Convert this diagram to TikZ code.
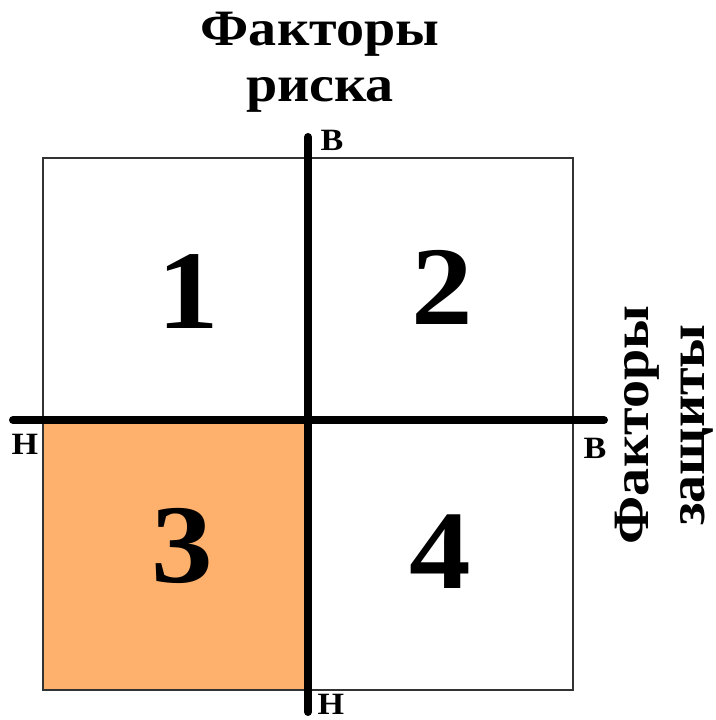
\documentclass[tikz,border=0pt]{standalone}
\usepackage{fontspec}
\setmainfont{Liberation Serif}
\newfontfamily\widefont[FakeStretch=1.1]{Liberation Serif}
\usetikzlibrary{positioning}
\definecolor{quadorange}{RGB}{253,177,108}

\begin{document}
\begin{tikzpicture}[x=1pt, y=-1pt,
    frame/.style={draw=black!80, line width=2pt},
    axis/.style={line width=8pt, line cap=round},
    quad/.style={font=\widefont\fontsize{112}{112}\selectfont\bfseries, inner sep=0pt},
    heading/.style={font=\widefont\fontsize{51}{56}\selectfont\bfseries, align=center, inner sep=0pt},
    pole/.style={font=\widefont\fontsize{31}{31}\selectfont\bfseries, inner sep=0pt}]
  \useasboundingbox (0,0) rectangle (715,720);
  % square and shaded quadrant
  \coordinate (nw) at (43,158);
  \coordinate (mid) at (308,420);
  \coordinate (se) at (573,690);
  \fill[quadorange] (nw |- mid) rectangle (mid |- se);
  \draw[frame] (nw) rectangle (se);
  % axes
  \coordinate (risktop) at (308,137);
  \coordinate (riskbot) at (308,712);
  \coordinate (protleft) at (13,420);
  \coordinate (protright) at (604,420);
  \draw[axis] (risktop) -- (riskbot);
  \draw[axis] (protleft) -- (protright);
  % axis ends
  \node[pole] (vtop) at (332,140) {В};
  \node[pole] (nbot) at (331,704) {Н};
  \node[pole] (nleft) at (25,444) {Н};
  \node[pole] (vright) at (595,448) {В};
  % titles
  \node[heading] (risk) at (320,62) {Факторы\\риска};
  \node[heading, rotate=90] (prot) at (664,425) {Факторы\\защиты};
  % quadrant numbers
  \node[quad] (q1) at (188,292) {1};
  \node[quad] (q2) at (442,287) {2};
  \node[quad] (q3) at (182,546) {3};
  \node[quad] (q4) at (440,552) {4};
\end{tikzpicture}
\end{document}
